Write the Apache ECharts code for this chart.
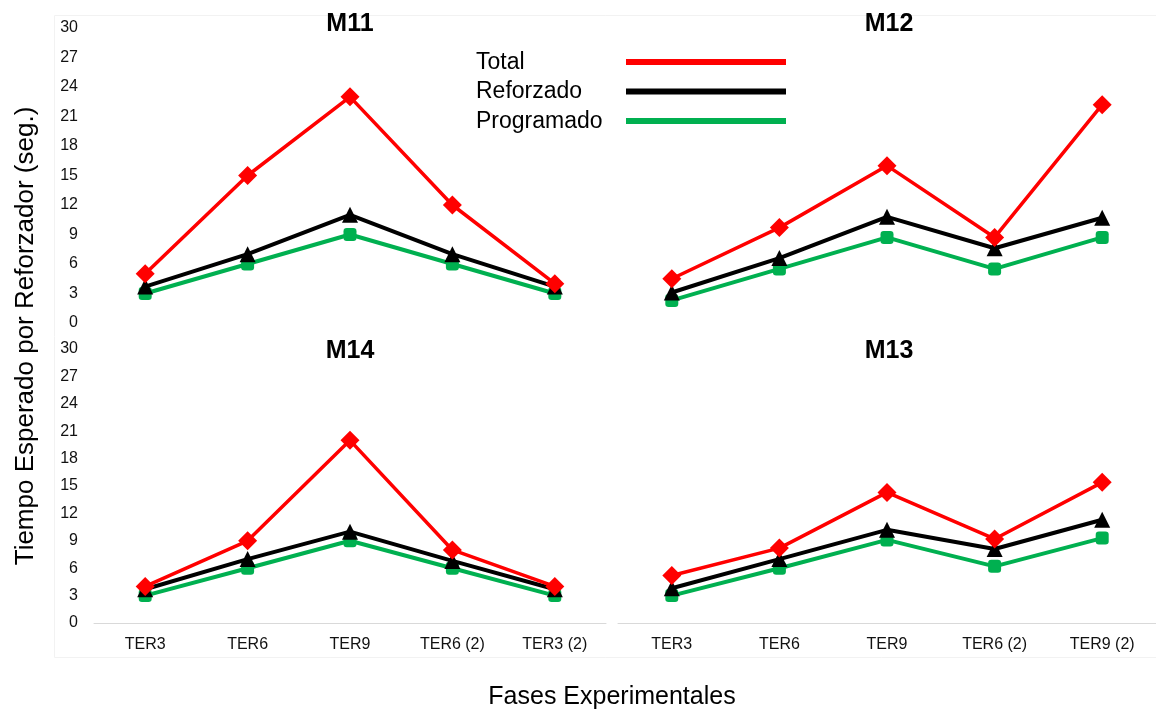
<!DOCTYPE html>
<html>
<head>
<meta charset="utf-8">
<script src="https://cdn.jsdelivr.net/npm/echarts@6/dist/echarts.min.js"></script>
<style>
  html, body { margin: 0; padding: 0; background: #fff; }
  #chart { width: 1156px; height: 713px; }
</style>
</head>
<body>
<div id="chart"></div>
<script>
// categories per column
const phasesLeft = ['TER3', 'TER6', 'TER9', 'TER6 (2)', 'TER3 (2)']
const phasesRight = ['TER3', 'TER6', 'TER9', 'TER6 (2)', 'TER9 (2)']

const seriesNames = ['Total', 'Reforzado', 'Programado']
const seriesColors = ['#ff0000', '#000000', '#00b050']

// values
const m11Total = [5, 15, 23, 12, 4]
const m11Reforzado = [3.7, 7, 11, 7, 3.7]
const m11Programado = [3, 6, 9, 6, 3]

const m12Total = [4.5, 9.7, 16, 8.7, 22.2]
const m12Reforzado = [3.1, 6.6, 10.8, 7.6, 10.7]
const m12Programado = [2.3, 5.5, 8.7, 5.5, 8.7]

const m14Total = [4, 9, 20, 8, 4]
const m14Reforzado = [3.7, 7, 10, 6.8, 3.7]
const m14Programado = [3, 6, 9, 6, 3]

const m13Total = [5.2, 8.2, 14.3, 9.2, 15.4]
const m13Reforzado = [3.8, 7, 10.2, 8.1, 11.3]
const m13Programado = [3, 6, 9.1, 6.2, 9.3]

const yTicks = { min: 0, max: 30, interval: 3 }

const panels = [
  { title: 'M11', cats: phasesLeft, data: [m11Total, m11Reforzado, m11Programado],
    grid: { left: 94, top: 28, width: 512, height: 295 }, titleTop: 12, yLabels: true, xLabels: false },
  { title: 'M12', cats: phasesRight, data: [m12Total, m12Reforzado, m12Programado],
    grid: { left: 618, top: 28, width: 544, height: 295 }, titleTop: 12, yLabels: false, xLabels: false },
  { title: 'M14', cats: phasesLeft, data: [m14Total, m14Reforzado, m14Programado],
    grid: { left: 94, top: 349, width: 512, height: 274 }, titleTop: 339, yLabels: true, xLabels: true },
  { title: 'M13', cats: phasesRight, data: [m13Total, m13Reforzado, m13Programado],
    grid: { left: 618, top: 349, width: 544, height: 274 }, titleTop: 339, yLabels: false, xLabels: true },
]

const symbols = ['diamond', 'triangle', 'roundRect']
const symbolSizes = [19, 16, 13]
const lineWidths = [3.5, 4, 4]

const font = '"Liberation Sans", Arial, sans-serif'

const chart = echarts.init(document.getElementById('chart'))

const grids = panels.map((p) => p.grid)

const xAxes = panels.map((p, i) => ({
  type: 'category',
  gridIndex: i,
  data: p.cats,
  boundaryGap: true,
  axisLine: { show: p.xLabels, lineStyle: { color: '#d9d9d9', width: 1 } },
  axisTick: { show: false },
  axisLabel: {
    show: p.xLabels,
    color: '#111',
    fontFamily: font,
    fontSize: 16,
    margin: 14,
  },
  splitLine: { show: false },
}))

const yAxes = panels.map((p, i) => ({
  type: 'value',
  gridIndex: i,
  min: yTicks.min,
  max: yTicks.max,
  interval: yTicks.interval,
  axisLine: { show: false },
  axisTick: { show: false },
  splitLine: { show: false },
  axisLabel: {
    show: p.yLabels,
    color: '#111',
    fontFamily: font,
    fontSize: 16,
    margin: 16,
  },
}))

const series = []
panels.forEach((p, i) => {
  // draw green first, red last so red sits on top
  for (let k = seriesNames.length - 1; k >= 0; k--) {
    series.push({
      name: seriesNames[k],
      type: 'line',
      xAxisIndex: i,
      yAxisIndex: i,
      data: p.data[k],
      symbol: symbols[k],
      symbolSize: symbolSizes[k],
      showSymbol: true,
      lineStyle: { color: seriesColors[k], width: lineWidths[k] },
      itemStyle: { color: seriesColors[k] },
      z: 10 + (seriesNames.length - k),
      animation: false,
    })
  }
})

const titles = panels.map((p) => ({
  text: p.title,
  left: p.xLabels || p.yLabels ? p.grid.left + 256 : 889,
  top: p.titleTop,
  textAlign: 'center',
  padding: 0,
  textStyle: { fontFamily: font, fontSize: 25, fontWeight: 'bold', color: '#000' },
}))
// right column titles sit over its own centre
titles[1].left = 889
titles[3].left = 889

// legend drawn by hand: text on the left, long line on the right
const legendGraphics = []
seriesNames.forEach((name, k) => {
  const y = 62 + k * 29.5
  legendGraphics.push({
    type: 'text',
    left: 476,
    top: y - 11,
    style: { text: name, fontFamily: font, fontSize: 23, fill: '#000' },
  })
  legendGraphics.push({
    type: 'rect',
    shape: { x: 626, y: y - 3, width: 160, height: 6 },
    style: { fill: seriesColors[k] },
  })
})

chart.setOption({
  backgroundColor: '#ffffff',
  animation: false,
  title: titles,
  grid: grids,
  xAxis: xAxes,
  yAxis: yAxes,
  series: series,
  graphic: [
    {
      type: 'rect',
      shape: { x: 54.5, y: 15.5, width: 1110, height: 642 },
      style: { fill: 'none', stroke: '#f2f2f2', lineWidth: 1 },
      silent: true,
    },
    {
      type: 'text',
      x: 26,
      y: 336,
      rotation: Math.PI / 2,
      style: {
        text: 'Tiempo Esperado por Reforzador (seg.)',
        fontFamily: font,
        fontSize: 26,
        fill: '#000',
        align: 'center',
        verticalAlign: 'middle',
      },
    },
    {
      type: 'text',
      x: 612,
      y: 697,
      style: {
        text: 'Fases Experimentales',
        fontFamily: font,
        fontSize: 25,
        fill: '#000',
        align: 'center',
        verticalAlign: 'middle',
      },
    },
    ...legendGraphics,
  ],
})
</script>
</body>
</html>
